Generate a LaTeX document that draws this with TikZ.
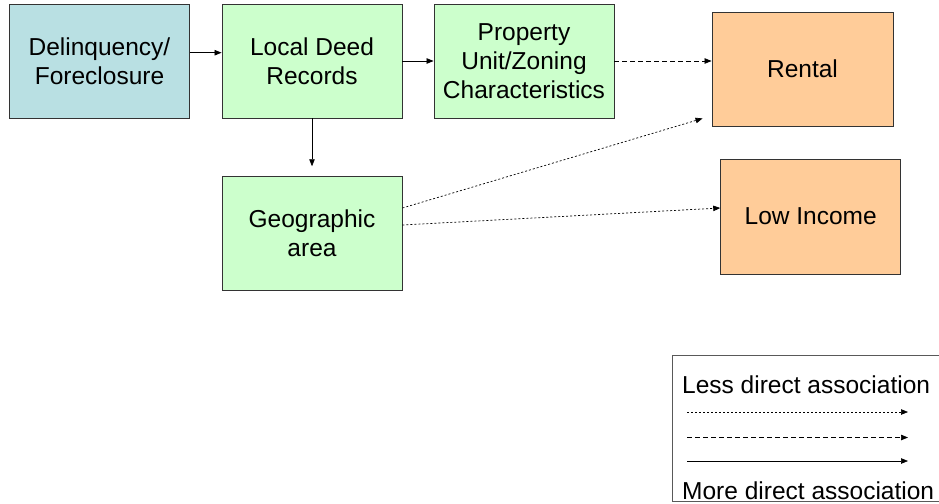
\documentclass[tikz,border=0pt]{standalone}
\usepackage{fontspec}
\setmainfont{Liberation Sans}
\usetikzlibrary{arrows.meta}
\definecolor{boxblue}{HTML}{B9E0E3}
\definecolor{boxgreen}{HTML}{CCFFCC}
\definecolor{boxorange}{HTML}{FFCC99}
\definecolor{edgegray}{HTML}{333333}
\tikzset{
  box/.style={draw=edgegray, line width=0.9pt, minimum width=180pt, minimum height=114pt,
    inner sep=0pt, align=center, font=\fontsize{24.5}{29}\selectfont},
  arr/.style={line width=0.7pt, -{Triangle[length=7pt,width=5.5pt]}},
  dottedline/.style={arr, dash pattern=on 2pt off 2pt},
  dashedline/.style={arr, dash pattern=on 5pt off 3pt},
  legtext/.style={inner sep=0pt, anchor=base west, font=\fontsize{24.5}{29}\selectfont},
}
\begin{document}
\begin{tikzpicture}[x=1pt,y=-1pt]
\clip (0,0) rectangle (939,503);
\fill[white] (0,0) rectangle (939,503);
\node[box, fill=boxblue] (del) at (99.5,61) {Delinquency/\\Foreclosure};
\node[box, fill=boxgreen] (deed) at (312,61) {Local Deed\\Records};
\node[box, fill=boxgreen] (prop) at (524,61) {Property\\Unit/Zoning\\Characteristics};
\node[box, fill=boxgreen] (geo) at (312,233) {Geographic\\area};
\node[box, fill=boxorange, minimum width=181pt] (rent) at (802.5,69) {Rental};
\node[box, fill=boxorange, minimum height=115pt] (low) at (810.7,216.5) {Low Income};
\coordinate (rentend) at ([xshift=-9pt,yshift=8pt]rent.south west);
\draw[arr] ([yshift=8.3pt]del.east) -- ([yshift=8.3pt]deed.west);
\draw[arr] (deed.east) -- (prop.west);
\draw[arr, shorten >=9.3pt] (deed.south) -- (geo.north);
\draw[dashedline] (prop.east) -- (rent.west |- prop.east);
\draw[dottedline] ([yshift=25pt]geo.east) -- (rentend);
\draw[dottedline] ([yshift=8pt]geo.east) -- ([yshift=8.5pt]low.west);
% legend
\draw[draw=black!65, line width=0.9pt] (672.7,355) rectangle (960,501.7);
\node[legtext] (less) at (682,393) {Less direct association};
\node[legtext] (more) at (682,499) {More direct association};
\coordinate (d1s) at (687,412); \coordinate (d1e) at (908,412);
\coordinate (d2s) at (687,437.5); \coordinate (d2e) at (908,437.5);
\coordinate (d3s) at (687,461); \coordinate (d3e) at (908,461);
\draw[dottedline] (d1s) -- (d1e);
\draw[dashedline] (d2s) -- (d2e);
\draw[arr] (d3s) -- (d3e);
\end{tikzpicture}
\end{document}
